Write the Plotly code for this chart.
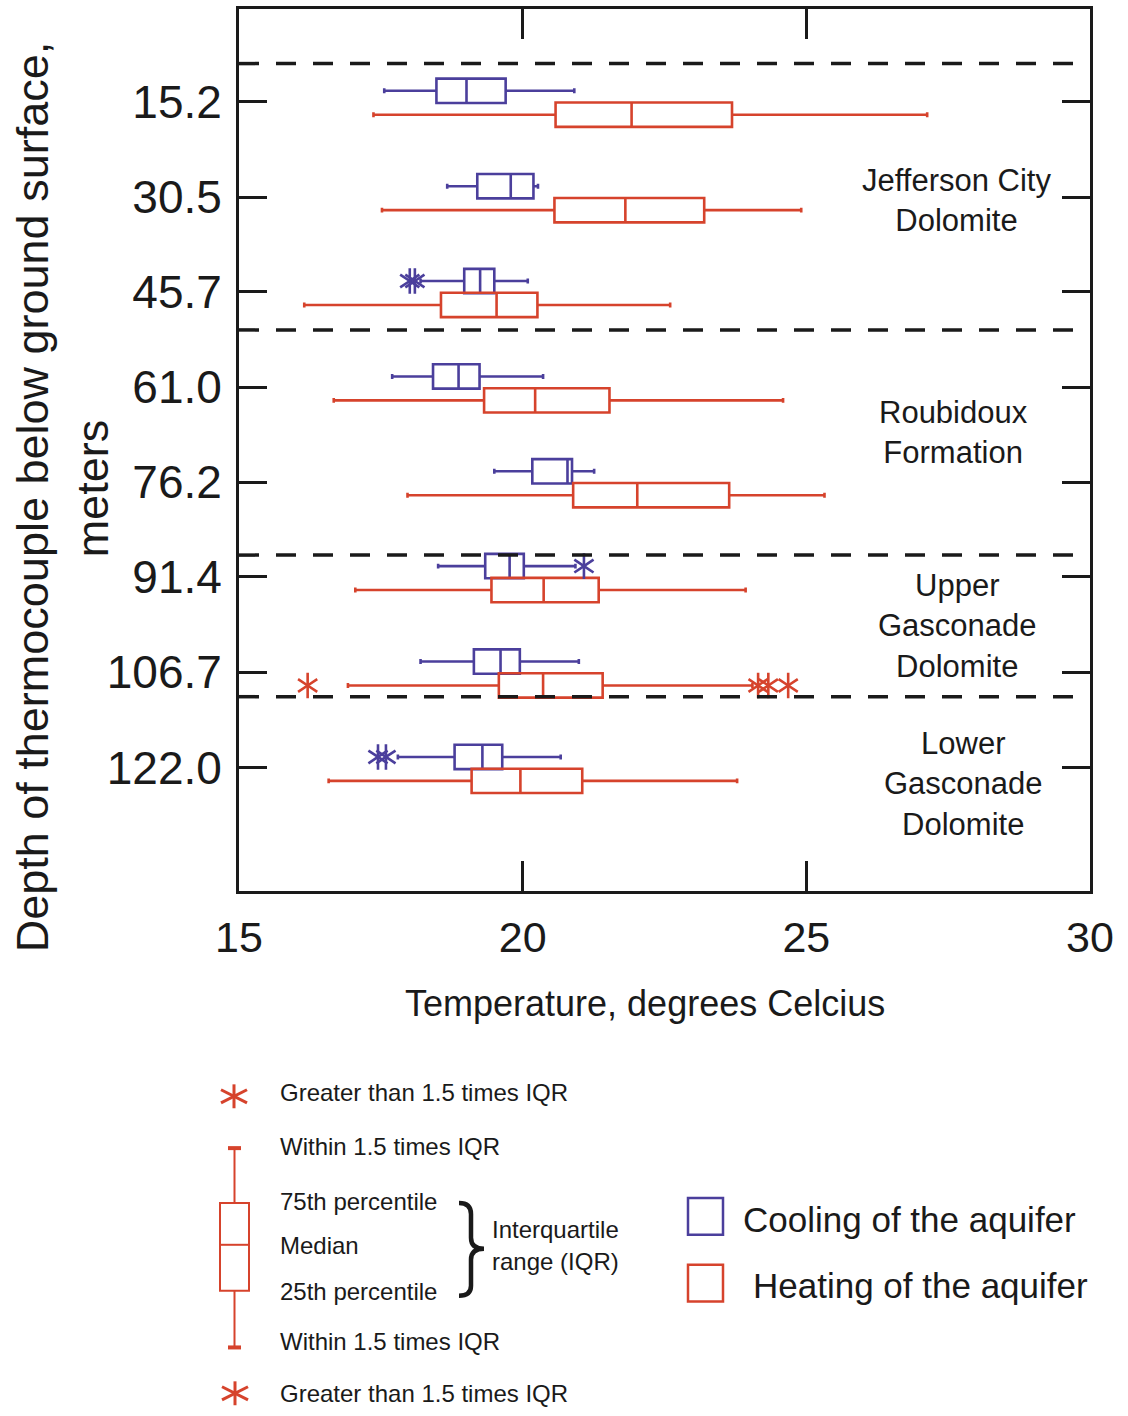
import plotly.graph_objects as go

# ---- data: thermocouple depths (m) and temperature statistics (deg C) ----
depths = [15.2, 30.5, 45.7, 61.0, 76.2, 91.4, 106.7, 122.0]
depth_labels = ["15.2", "30.5", "45.7", "61.0", "76.2", "91.4", "106.7", "122.0"]

cool_low = [17.56, 18.67, 18.20, 17.70, 19.50, 18.51, 18.20, 17.80]
cool_q1 = [18.48, 19.20, 18.97, 18.42, 20.17, 19.34, 19.14, 18.80]
cool_med = [19.01, 19.79, 19.25, 18.87, 20.79, 19.77, 19.61, 19.29]
cool_q3 = [19.70, 20.19, 19.50, 19.24, 20.87, 20.02, 19.95, 19.64]
cool_high = [20.91, 20.27, 20.09, 20.36, 21.26, 20.93, 20.99, 20.67]

heat_low = [17.37, 17.52, 16.15, 16.67, 17.97, 17.05, 16.92, 16.58]
heat_q1 = [20.58, 20.56, 18.56, 19.32, 20.89, 19.45, 19.58, 19.10]
heat_med = [21.92, 21.81, 19.54, 20.22, 22.02, 20.37, 20.36, 19.96]
heat_q3 = [23.69, 23.20, 20.26, 21.53, 23.64, 21.34, 21.41, 21.05]
heat_high = [27.13, 24.91, 22.60, 24.59, 25.32, 23.93, 24.05, 23.78]

cool_out_depth = [45.7, 45.7, 91.4, 122.0, 122.0]
cool_out_temp = [18.01, 18.10, 21.08, 17.45, 17.59]
heat_out_depth = [106.7, 106.7, 106.7, 106.7]
heat_out_temp = [16.21, 24.15, 24.33, 24.68]

x_ticks = [15, 20, 25, 30]

# formation boundaries (m) and unit names
boundary_depths = [9.1, 51.8, 87.9, 110.6]
formations = ["Jefferson City<br>Dolomite", "Roubidoux<br>Formation",
              "Upper<br>Gasconade<br>Dolomite", "Lower<br>Gasconade<br>Dolomite"]
formation_depth = [31.0, 68.2, 99.2, 124.6]
formation_temp = [27.65, 27.6, 27.67, 27.77]

# ---- styling ----
BLUE = "#4b3f9c"
RED = "#d6432c"
INK = "#1a1a1a"
FONT = "Liberation Sans, Arial, sans-serif"

W, H = 1128, 1416
ML, MR, MT, MB = 239, 38, 6, 525
PW, PH = W - ML - MR, H - MT - MB

PAIR_SHIFT = 0.18   # m, centre of the box pair relative to the tick
HALF_GAP = 1.92     # m, distance from pair centre to each box centre
BOX_W = 3.9         # m, box thickness


def px_x(px):
    return (px - ML) / PW


def px_y(py):
    return 1 - (py - MT) / PH


cool_pos = [d + PAIR_SHIFT - HALF_GAP for d in depths]
heat_pos = [d + PAIR_SHIFT + HALF_GAP for d in depths]

fig = go.Figure()


def add_box(pos, lo, q1, med, q3, hi, color, name):
    fig.add_trace(go.Box(
        y=pos, q1=q1, median=med, q3=q3, lowerfence=lo, upperfence=hi,
        orientation="h", width=BOX_W, whiskerwidth=0.2, boxpoints=False,
        line=dict(color=color, width=2.6), fillcolor="rgba(0,0,0,0)",
        name=name, showlegend=False, hoverinfo="skip",
    ))


add_box(cool_pos, cool_low, cool_q1, cool_med, cool_q3, cool_high, BLUE, "Cooling")
add_box(heat_pos, heat_low, heat_q1, heat_med, heat_q3, heat_high, RED, "Heating")


def add_outliers(temps, dpts, offset, color):
    ys = [d + PAIR_SHIFT + offset for d in dpts]
    for sym in ("y-up-open", "y-down-open"):
        fig.add_trace(go.Scatter(
            x=temps, y=ys, mode="markers", showlegend=False, hoverinfo="skip",
            marker=dict(symbol=sym, size=16, color=color,
                        line=dict(color=color, width=2.6)),
        ))


add_outliers(cool_out_temp, cool_out_depth, -HALF_GAP, BLUE)
add_outliers(heat_out_temp, heat_out_depth, HALF_GAP, RED)

shapes = []
for b in boundary_depths:
    shapes.append(dict(type="line", xref="paper", yref="y", x0=0, x1=1, y0=b, y1=b,
                       line=dict(color=INK, width=3.5, dash="20px,17px")))

annotations = []
for txt, t, d in zip(formations, formation_temp, formation_depth):
    annotations.append(dict(x=t, y=d, xref="x", yref="y", text=txt, showarrow=False,
                            font=dict(family=FONT, size=31, color=INK),
                            align="center", xanchor="center", yanchor="middle"))

# axis titles
annotations.append(dict(x=px_x(645), y=px_y(1004), xref="paper", yref="paper",
                        text="Temperature, degrees Celcius", showarrow=False,
                        font=dict(family=FONT, size=36, color=INK),
                        xanchor="center", yanchor="middle"))
annotations.append(dict(x=px_x(32), y=px_y(496), xref="paper", yref="paper",
                        text="Depth of thermocouple below ground surface,", textangle=-90,
                        showarrow=False, font=dict(family=FONT, size=45, color=INK),
                        xanchor="center", yanchor="middle"))
annotations.append(dict(x=px_x(92), y=px_y(487), xref="paper", yref="paper",
                        text="meters", textangle=-90, showarrow=False,
                        font=dict(family=FONT, size=45, color=INK),
                        xanchor="center", yanchor="middle"))

# ---- explanation key below the chart ----
key_font = dict(family=FONT, size=24, color=INK)
key_rows = [
    ("Greater than 1.5 times IQR", 1093),
    ("Within 1.5 times IQR", 1147),
    ("75th percentile", 1203),
    ("Median", 1247),
    ("25th percentile", 1293),
    ("Within 1.5 times IQR", 1343),
    ("Greater than 1.5 times IQR", 1395),
]
for txt, yy in key_rows:
    annotations.append(dict(x=px_x(278), y=px_y(yy), xref="paper", yref="paper", text=txt,
                            showarrow=False, font=key_font, xanchor="left", yanchor="middle"))
annotations.append(dict(x=px_x(490), y=px_y(1231), xref="paper", yref="paper",
                        text="Interquartile", showarrow=False, font=key_font,
                        xanchor="left", yanchor="middle"))
annotations.append(dict(x=px_x(490), y=px_y(1263), xref="paper", yref="paper",
                        text="range (IQR)", showarrow=False, font=key_font,
                        xanchor="left", yanchor="middle"))


def pline(x0, y0, x1, y1, color, width):
    shapes.append(dict(type="line", xref="paper", yref="paper",
                       x0=px_x(x0), y0=px_y(y0), x1=px_x(x1), y1=px_y(y1),
                       line=dict(color=color, width=width)))


# sample box
shapes.append(dict(type="rect", xref="paper", yref="paper",
                   x0=px_x(220), x1=px_x(249), y0=px_y(1204), y1=px_y(1292),
                   line=dict(color=RED, width=2), fillcolor="rgba(0,0,0,0)"))
pline(220, 1246, 249, 1246, RED, 2)
pline(234.5, 1149, 234.5, 1204, RED, 2)
pline(234.5, 1292, 234.5, 1349, RED, 2)
pline(228, 1149, 241, 1149, RED, 4)
pline(228, 1349, 241, 1349, RED, 4)


# sample outlier symbols (six-armed asterisks)
def asterisk(cx, cy, rx=13, ry=12):
    pline(cx, cy - ry, cx, cy + ry, RED, 3)
    pline(cx - rx, cy - ry * 0.55, cx + rx, cy + ry * 0.55, RED, 3)
    pline(cx - rx, cy + ry * 0.55, cx + rx, cy - ry * 0.55, RED, 3)


asterisk(234, 1097)
asterisk(235, 1395)


# brace
def P(x, y):
    return f"{px_x(x):.5f},{px_y(y):.5f}"


brace = (f"M{P(459, 1204)} Q{P(471, 1204)} {P(471, 1215)} L{P(471, 1239)} "
         f"Q{P(471, 1250)} {P(484, 1250)} Q{P(471, 1250)} {P(471, 1261)} "
         f"L{P(471, 1287)} Q{P(471, 1297)} {P(459, 1297)}")
shapes.append(dict(type="path", xref="paper", yref="paper", path=brace,
                   line=dict(color=INK, width=4.5)))

# series key
shapes.append(dict(type="rect", xref="paper", yref="paper",
                   x0=px_x(688), x1=px_x(723), y0=px_y(1199), y1=px_y(1236),
                   line=dict(color=BLUE, width=2.5), fillcolor="rgba(0,0,0,0)"))
shapes.append(dict(type="rect", xref="paper", yref="paper",
                   x0=px_x(688), x1=px_x(723), y0=px_y(1266), y1=px_y(1303),
                   line=dict(color=RED, width=2.5), fillcolor="rgba(0,0,0,0)"))
series_font = dict(family=FONT, size=35, color=INK)
annotations.append(dict(x=px_x(741), y=px_y(1221), xref="paper", yref="paper",
                        text="Cooling of the aquifer", showarrow=False, font=series_font,
                        xanchor="left", yanchor="middle"))
annotations.append(dict(x=px_x(751), y=px_y(1287), xref="paper", yref="paper",
                        text="Heating of the aquifer", showarrow=False, font=series_font,
                        xanchor="left", yanchor="middle"))

fig.update_layout(
    width=W, height=H,
    margin=dict(l=ML, r=MR, t=MT, b=MB),
    paper_bgcolor="white", plot_bgcolor="white",
    showlegend=False,
    xaxis=dict(range=[15, 30], tickvals=x_ticks, ticktext=[str(v) for v in x_ticks],
               ticks="inside", ticklen=30, tickwidth=2.6, tickcolor=INK,
               showline=True, linecolor=INK, linewidth=2.8, mirror="ticks",
               showgrid=False, zeroline=False, ticklabelstandoff=6,
               tickfont=dict(family=FONT, size=43, color=INK)),
    yaxis=dict(range=[141.75, 0.35], tickvals=depths, ticktext=depth_labels,
               ticks="inside", ticklen=28, tickwidth=2.6, tickcolor=INK,
               showline=True, linecolor=INK, linewidth=2.8, mirror="ticks",
               showgrid=False, zeroline=False, ticklabelstandoff=5,
               tickfont=dict(family=FONT, size=46, color=INK)),
    shapes=shapes,
    annotations=annotations,
)

fig.write_html("out.html")
